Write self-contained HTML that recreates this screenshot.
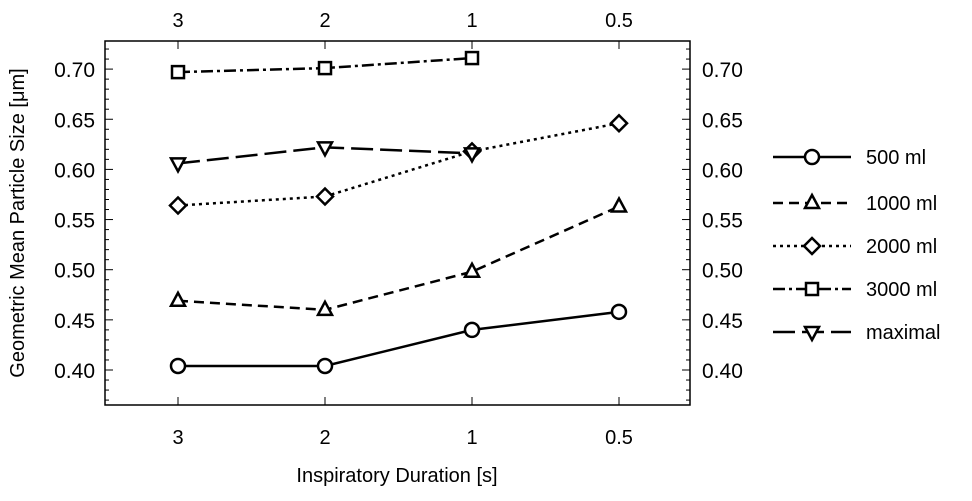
<!DOCTYPE html>
<html><head><meta charset="utf-8"><style>
body{margin:0;background:#fff}
svg text{font-family:"Liberation Sans","DejaVu Sans",sans-serif;fill:#000}
</style></head><body>
<svg id="c" width="972" height="496" xmlns="http://www.w3.org/2000/svg"></svg>
<script>
const categories=["3","2","1","0.5"];
const s500=[0.404,0.404,0.440,0.458];
const s1000=[0.469,0.460,0.498,0.563];
const s2000=[0.564,0.573,0.618,0.646];
const s3000=[0.697,0.701,0.711,null];
const sMax=[0.606,0.622,0.616,null];
const yTicks=[0.40,0.45,0.50,0.55,0.60,0.65,0.70];
const seriesNames=["500 ml","1000 ml","2000 ml","3000 ml","maximal"];
const NS="http://www.w3.org/2000/svg";
const svg=document.getElementById('c');
const L=105,R=690,T=41,B=405;
const x=i=>178+i*147;
const y=v=>370-(v-0.40)*1003;
function el(t,a,p){const e=document.createElementNS(NS,t);for(const k in a)e.setAttribute(k,a[k]);(p||svg).appendChild(e);return e;}
const frame=el('rect',{x:L,y:T,width:R-L,height:B-T,fill:'none',stroke:'#000','stroke-width':1.5});


for(let v=0.37;v<=0.735;v+=0.01){const yy=y(v);if(yy<T||yy>B)continue;const maj=Math.abs(Math.round(v*100)%5)==0;const len=maj?8:4;
el('line',{x1:L,x2:L+len,y1:yy,y2:yy,stroke:'#000','stroke-width':1});el('line',{x1:R,x2:R-len,y1:yy,y2:yy,stroke:'#000','stroke-width':1});}
yTicks.forEach(v=>{for(const [xx,anc] of [[L-10,'end'],[R+12,'start']]){const t=el('text',{x:xx,y:y(v)+8,'font-size':21,'text-anchor':anc});t.textContent=v.toFixed(2);

}});
categories.forEach((c,i)=>{el('line',{x1:x(i),x2:x(i),y1:B,y2:B-8,stroke:'#000'});el('line',{x1:x(i),x2:x(i),y1:T,y2:T+8,stroke:'#000'});
for(const yy of [444,27]){const t=el('text',{x:x(i),y:yy,'font-size':20,'text-anchor':'middle'});t.textContent=c;

}});
const xt=el('text',{x:397,y:482,'font-size':20,'text-anchor':'middle'});xt.textContent='Inspiratory Duration [s]';


const yt=el('text',{x:0,y:0,'font-size':20,'text-anchor':'middle',transform:'translate(24,223) rotate(-90)'});yt.textContent='Geometric Mean Particle Size [μm]';


function marker(type,cx,cy){const a={fill:'#fff',stroke:'#000','stroke-width':2.5};let m;
if(type==0)m=el('circle',Object.assign({cx,cy,r:7},a));
else if(type==1)m=el('polygon',Object.assign({points:`${cx},${cy-8} ${cx+7},${cy+5} ${cx-7},${cy+5}`},a));
else if(type==2)m=el('polygon',Object.assign({points:`${cx},${cy-8} ${cx+8},${cy} ${cx},${cy+8} ${cx-8},${cy}`},a));
else if(type==3)m=el('rect',Object.assign({x:cx-6,y:cy-6,width:12,height:12},a));
else m=el('polygon',Object.assign({points:`${cx},${cy+8} ${cx+7},${cy-5} ${cx-7},${cy-5}`},a));
return m;}
const dashes=['none','10,6','3,4','12,4,3,4','22,7'];
const all=[s500,s1000,s2000,s3000,sMax];
all.forEach((s,k)=>{const pts=[];s.forEach((v,i)=>{if(v!=null)pts.push(x(i)+','+y(v));});
const p=el('polyline',{points:pts.join(' '),fill:'none',stroke:'#000','stroke-width':2.5,'stroke-dasharray':dashes[k]});


s.forEach((v,i)=>{if(v!=null){const m=marker(k,x(i),y(v));

}});
const ly=[157,203,246,289,332][k];
const ll=el('line',{x1:773,x2:851,y1:ly,y2:ly,stroke:'#000','stroke-width':2.5,'stroke-dasharray':dashes[k]});


marker(k,812,ly);
const lt=el('text',{x:866,y:ly+7,'font-size':20});lt.textContent=seriesNames[k];


});
</script>
</body></html>
